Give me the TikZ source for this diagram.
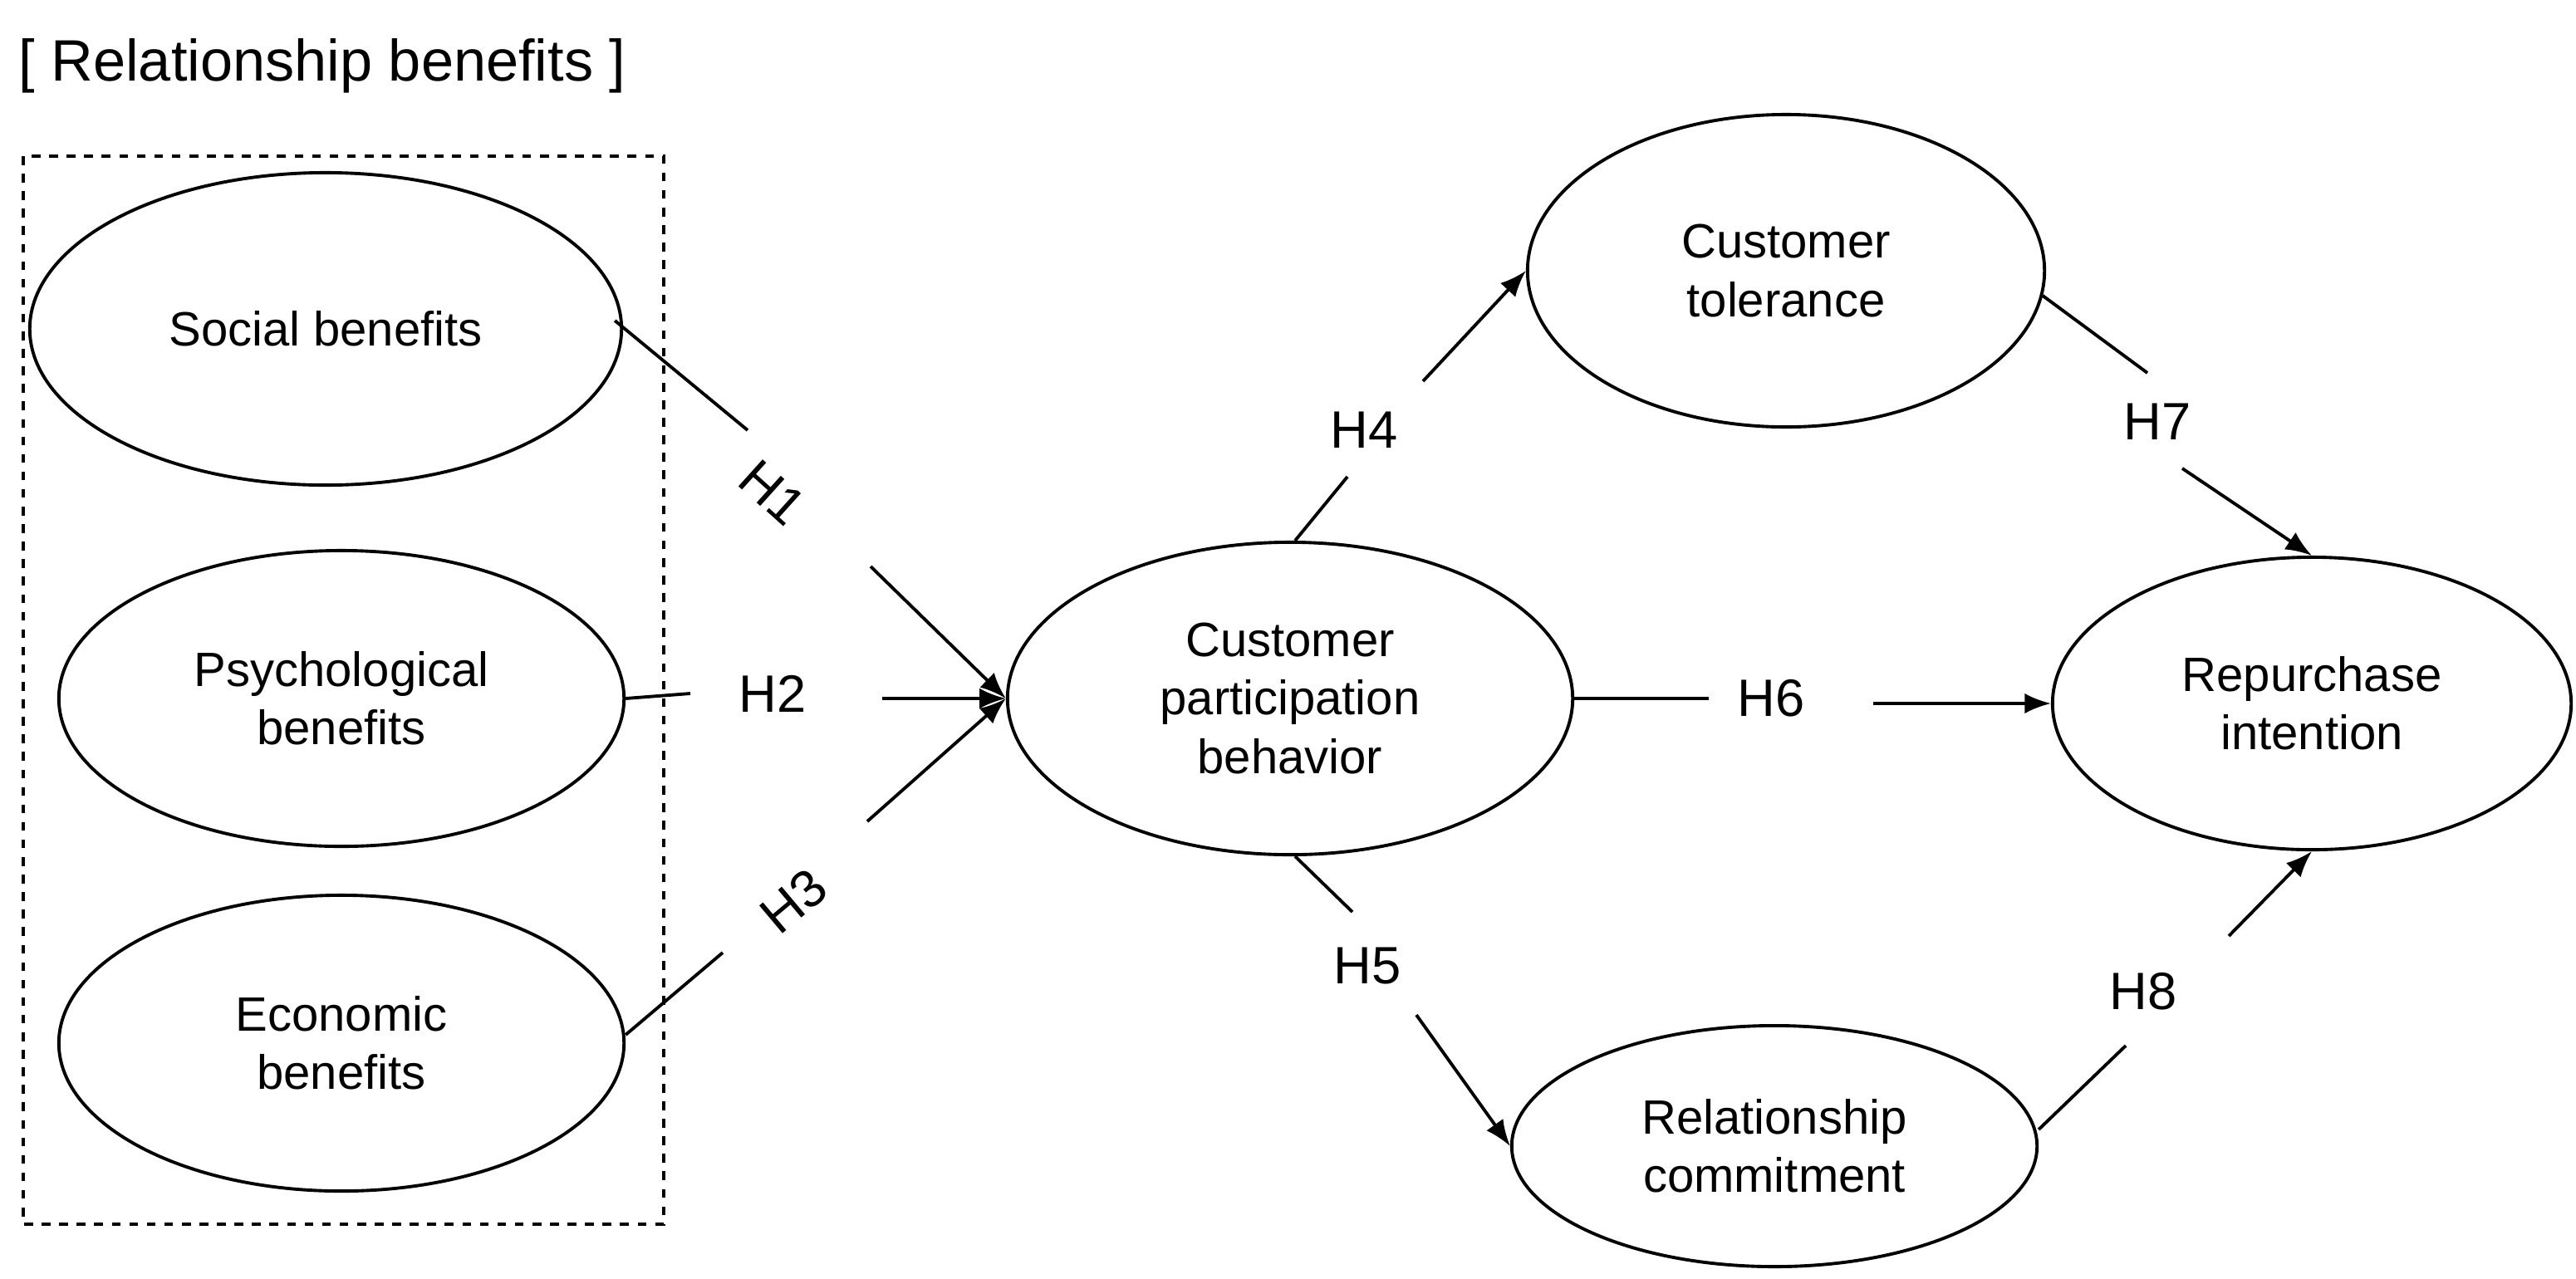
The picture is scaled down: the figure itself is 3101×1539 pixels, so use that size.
\documentclass[tikz,border=0pt]{standalone}
\usepackage{fontspec}
\setmainfont{Liberation Sans}
\usetikzlibrary{shapes.geometric,arrows.meta}

\tikzset{
  construct/.style={draw,line width=1.1pt,ellipse,inner sep=0pt,align=center,font=\fontsize{16.5}{20}\selectfont},
  hyp/.style={font=\fontsize{18}{21}\selectfont},
  link/.style={line width=1.1pt},
  arr/.style={line width=1.1pt,-{Latex[length=9pt,width=7pt]}}
}

\begin{document}
\begin{tikzpicture}[x=0.01cm,y=-0.01cm]
        \useasboundingbox (0,0) rectangle (3101,1539);
        % constructs
        \node[construct,minimum width=7.12cm,minimum height=3.76cm] (SB) at (392,396) {Social benefits};
        \node[construct,minimum width=6.8cm,minimum height=3.56cm] (PB) at (411,841) {Psychological\\benefits};
        \node[construct,minimum width=6.8cm,minimum height=3.56cm] (EB) at (411,1256) {Economic\\benefits};
        \node[construct,minimum width=6.8cm,minimum height=3.76cm] (CPB) at (1553,841) {Customer\\participation\\behavior};
        \node[construct,minimum width=6.22cm,minimum height=3.76cm] (CT) at (2150,326) {Customer\\tolerance};
        \node[construct,minimum width=6.32cm,minimum height=2.9cm] (RC) at (2136,1380) {Relationship\\commitment};
        \node[construct,minimum width=6.24cm,minimum height=3.52cm] (RI) at (2783,847) {Repurchase\\intention};
        \draw[dashed,line width=1.1pt] (28,188) rectangle (799,1474);
        \node[font=\fontsize{20}{24}\selectfont,anchor=west] (title) at (10,79) {[ Relationship benefits ]};

        % hypotheses
        \node[hyp,rotate=-42] (H1) at (930,593) {H1};
        \node[hyp] (H2) at (930,835) {H2};
        \node[hyp,rotate=40] (H3) at (955,1085) {H3};
        \node[hyp] (H4) at (1642,518) {H4};
        \node[hyp] (H5) at (1646,1163) {H5};
        \node[hyp] (H6) at (2132,841) {H6};
        \node[hyp] (H7) at (2597,508) {H7};
        \node[hyp] (H8) at (2580,1194) {H8};

        \coordinate (a1) at (900,518);  \coordinate (b1) at (1048,682);
        \coordinate (a2) at (831,835);  \coordinate (b2) at (1062,841);
        \coordinate (a3) at (870,1147); \coordinate (b3) at (1044,989);
        \coordinate (a4) at (1622,574); \coordinate (b4) at (1713,459);
        \coordinate (a5) at (1628,1098);\coordinate (b5) at (1705,1222);
        \coordinate (a6) at (2057,841); \coordinate (b6) at (2255,847);
        \coordinate (a7) at (2585,449); \coordinate (b7) at (2627,564);
        \coordinate (a8) at (2559,1259);\coordinate (b8) at (2683,1127);

        \draw[link] (SB.east) ++(-10,-10) -- (a1);
        \draw[arr] (b1) -- (CPB.west);
        \draw[link] (PB.east) -- (a2);
        \draw[arr] (b2) -- (CPB.west);
        \draw[link] (EB.east) ++(0,-10) -- (a3);
        \draw[arr] (b3) -- (CPB.west);
        \draw[link] (CPB.north) ++(6,0) -- (a4);
        \draw[arr] (b4) -- (CT.west);
        \draw[link] (CPB.south) ++(6,0) -- (a5);
        \draw[arr] (b5) -- (RC.west);
        \draw[link] (CPB.east) -- (a6);
        \draw[arr] (b6) -- (RI.west);
        \draw[link] (2459,356) -- (a7);
        \draw[arr] (b7) -- (RI.north);
        \draw[link] (RC.east) ++(0,-20) -- (a8);
        \draw[arr] (b8) -- (RI.south);
\end{tikzpicture}
\end{document}
